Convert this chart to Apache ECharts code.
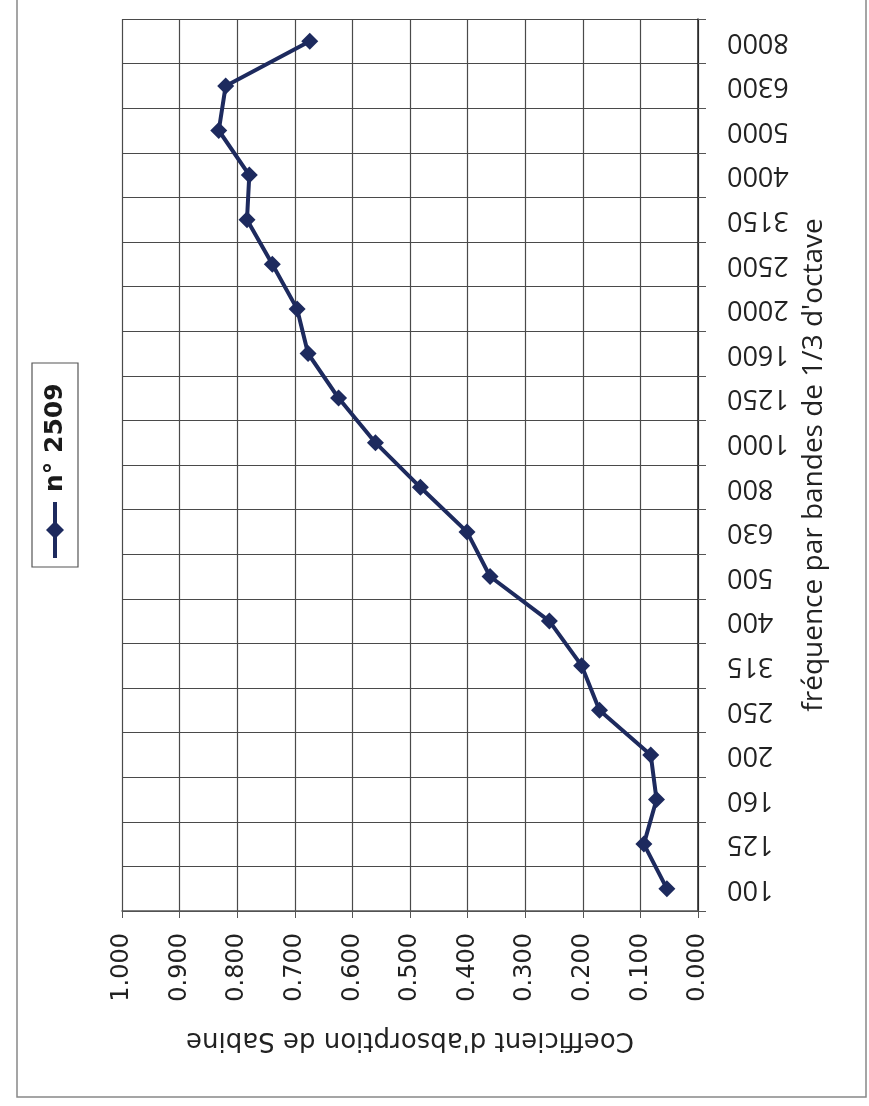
<!DOCTYPE html>
<html>
<head>
<meta charset="utf-8">
<title>Coefficient d'absorption de Sabine</title>
<script src="https://cdn.jsdelivr.net/npm/echarts@6/dist/echarts.min.js"></script>
<style>
  html, body { margin: 0; padding: 0; background: #fff; }
  #chart { width: 869px; height: 1106px; }
</style>
</head>
<body>
<div id="chart"></div>
<script>
// bandes de 1/3 d'octave
var frequences = ['100', '125', '160', '200', '250', '315', '400', '500', '630', '800',
  '1000', '1250', '1600', '2000', '2500', '3150', '4000', '5000', '6300', '8000'];
// n° 2509
var alpha2509 = [0.054, 0.094, 0.072, 0.082, 0.171, 0.202, 0.258, 0.361, 0.401, 0.482,
  0.560, 0.624, 0.677, 0.696, 0.739, 0.783, 0.779, 0.832, 0.820, 0.674];
var nomSerie = 'n° 2509';

var bleu = '#1d2a5e';
var myChart = echarts.init(document.getElementById('chart'));

myChart.setOption({
  backgroundColor: '#fff',
  animation: false,
  grid: { left: 122, right: 171, top: 19, bottom: 195 },
  xAxis: {
    type: 'value',
    inverse: true,
    min: 0, max: 1, interval: 0.1,
    position: 'bottom',
    name: "Coefficient d'absorption de Sabine",
    nameLocation: 'middle',
    nameRotate: 180,
    nameGap: 116,
    nameTextStyle: { fontFamily: 'DejaVu Sans', fontSize: 26, color: '#222' },
    axisLine: { show: true, lineStyle: { color: '#555', width: 1.5 } },
    axisTick: { show: true, length: 7, lineStyle: { color: '#555' } },
    axisLabel: {
      rotate: 90, margin: 22,
      fontFamily: 'DejaVu Sans', fontSize: 24, color: '#222',
      formatter: function (v) { return v.toFixed(3); }
    },
    splitLine: { show: true, lineStyle: { color: '#4a4a4a', width: 1.2 } }
  },
  yAxis: {
    type: 'category',
    data: frequences,
    position: 'right',
    boundaryGap: true,
    name: "fréquence par bandes de 1/3 d'octave",
    nameLocation: 'middle',
    nameRotate: 90,
    nameGap: 101,
    nameTextStyle: { fontFamily: 'Open Sans', fontSize: 28, color: '#222' },
    axisLine: { show: true, onZero: false, lineStyle: { color: '#222', width: 1.5 } },
    axisTick: { show: true, length: 8, lineStyle: { color: '#555' } },
    axisLabel: {
      rotate: 180, margin: 29,
      fontFamily: 'Open Sans', fontSize: 27, color: '#222'
    },
    splitLine: { show: true, lineStyle: { color: '#4a4a4a', width: 1.2 } }
  },
  series: [{
    name: nomSerie,
    type: 'line',
    data: alpha2509,
    symbol: 'diamond',
    symbolSize: 17,
    itemStyle: { color: bleu },
    lineStyle: { color: bleu, width: 4 }
  }],
  graphic: [
    {
      type: 'rect',
      shape: { x: 17, y: -5, width: 849, height: 1102 },
      style: { fill: 'none', stroke: '#888', lineWidth: 1.5 },
      silent: true
    },
    {
      // légende tournée comme le reste du graphique
      type: 'group',
      x: 55, y: 465,
      rotation: Math.PI / 2,
      children: [
        { type: 'rect', shape: { x: -102, y: -23, width: 204, height: 46 },
          style: { fill: '#fff', stroke: '#555', lineWidth: 1.2 } },
        { type: 'line', shape: { x1: -93, y1: 0, x2: -37, y2: 0 },
          style: { stroke: bleu, lineWidth: 4 } },
        { type: 'polygon', shape: { points: [[-74, 0], [-65, -9], [-56, 0], [-65, 9]] },
          style: { fill: bleu } },
        { type: 'text', x: -27, y: 0,
          style: { text: nomSerie, fontFamily: 'DejaVu Sans', fontWeight: 'bold', fontSize: 25,
            fill: '#1a1a1a', align: 'left', verticalAlign: 'middle' } }
      ]
    }
  ]
});
</script>
</body>
</html>
